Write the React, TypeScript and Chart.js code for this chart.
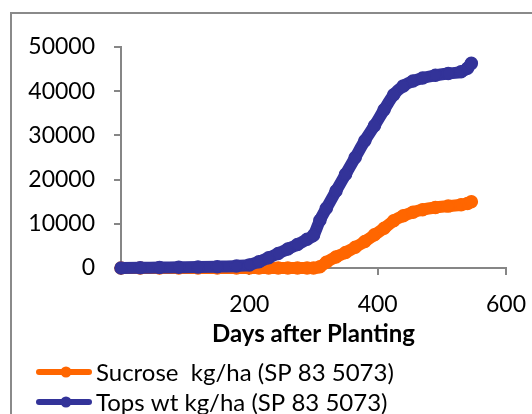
import React, { useEffect, useRef } from "react";
import { Chart, registerables } from "chart.js";

Chart.register(...registerables);

const days = [0, 30, 60, 90, 120, 150, 180, 200, 215, 230, 245, 260, 275, 290, 300, 310, 320, 335, 350, 365, 380, 395, 410, 425, 440, 455, 470, 490, 510, 530, 540, 546];
const sucrose = [0, 0, 0, 0, 0, 0, 0, 0, 0, 0, 0, 0, 0, 0, 0, 300, 1300, 2500, 3500, 4700, 6000, 7500, 9000, 10700, 11800, 12600, 13200, 13700, 14000, 14300, 14600, 15000];
const tops = [0, 50, 100, 150, 200, 300, 450, 700, 1400, 2300, 3300, 4300, 5300, 6500, 7400, 10800, 13500, 17400, 21200, 25000, 28800, 32200, 35800, 39200, 41200, 42300, 43000, 43600, 44000, 44400, 45200, 46300];
const seriesNames = ["Sucrose  kg/ha (SP 83 5073)", "Tops wt kg/ha (SP 83 5073)"];
const seriesColors = ["#FF6600", "#333399"];
const xTicks = [0, 200, 400, 600];
const yTicks = [0, 10000, 20000, 30000, 40000, 50000];
const xTitle = "Days after Planting";

const FONT = "Lato, 'Noto Sans', sans-serif";
const AXIS = "#868686";

const framePlugin = {
  id: "frame",
  beforeDraw(chart: any) {
    const ctx = chart.ctx;
    ctx.save();
    ctx.fillStyle = "#ffffff";
    ctx.fillRect(0, 0, chart.width, chart.height);
    ctx.strokeStyle = "#8a8a8a";
    ctx.lineWidth = 2;
    ctx.strokeRect(11, 13, 1000, 1000);
    ctx.restore();
  },
};

const legendPlugin = {
  id: "customLegend",
  afterDraw(chart: any) {
    const ctx = chart.ctx;
    ctx.save();
    chart.data.datasets.forEach((ds: any, i: number) => {
      const y = 372 + i * 30;
      ctx.strokeStyle = ds.borderColor;
      ctx.lineWidth = 6;
      ctx.lineCap = "round";
      ctx.beginPath();
      ctx.moveTo(39, y);
      ctx.lineTo(89, y);
      ctx.stroke();
      ctx.fillStyle = ds.borderColor;
      ctx.beginPath();
      ctx.arc(66, y, 5.5, 0, Math.PI * 2);
      ctx.fill();
      ctx.fillStyle = "#000";
      ctx.font = `24px ${FONT}`;
      ctx.textAlign = "left";
      ctx.textBaseline = "middle";
      ctx.fillText(ds.label, 96, y + 1);
    });
    ctx.restore();
  },
};

export default function App() {
  const ref = useRef<HTMLCanvasElement | null>(null);
  useEffect(() => {
    if (!ref.current) return;
    const mk = (vals: number[]) => days.map((d, i) => ({ x: d, y: vals[i] }));
    const common = {
      borderWidth: 12,
      borderCapStyle: "round",
      borderJoinStyle: "round",
      pointRadius: 6,
      pointBorderWidth: 1.5,
      cubicInterpolationMode: "monotone",
      clip: false,
    };
    const chart = new Chart(ref.current, {
      type: "line",
      data: {
        datasets: [
          {
            ...common,
            label: seriesNames[0],
            data: mk(sucrose),
            borderColor: seriesColors[0],
            backgroundColor: seriesColors[0],
            pointBorderColor: seriesColors[0],
            order: 1,
          } as any,
          {
            ...common,
            label: seriesNames[1],
            data: mk(tops),
            borderColor: seriesColors[1],
            backgroundColor: seriesColors[1],
            pointBorderColor: seriesColors[1],
            order: 0,
          } as any,
        ],
      },
      options: {
        animation: false,
        responsive: false,
        events: [],
        layout: { padding: { left: 0, right: 26, top: 47, bottom: 60 } },
        plugins: { legend: { display: false }, tooltip: { enabled: false } },
        scales: {
          x: {
            type: "linear",
            min: 0,
            max: 600,
            afterBuildTicks: (s: any) => {
              s.ticks = xTicks.map((v) => ({ value: v }));
            },
            afterFit: (s: any) => {
              s.height = 86;
              s.paddingLeft = 0;
              s.paddingRight = 0;
            },
            ticks: {
              color: "#000",
              font: { family: FONT, size: 23 },
              padding: 16,
              maxRotation: 0,
              callback: (v: any) => (v === 0 ? "" : String(v)),
            },
            grid: { display: true, drawOnChartArea: false, drawTicks: true, tickLength: 7, color: AXIS, lineWidth: 2 },
            border: { display: true, color: AXIS, width: 2 },
            title: {
              display: true,
              text: xTitle,
              color: "#000",
              font: { family: FONT, size: 24, weight: "bold" },
              padding: { top: 0, bottom: 5 },
            },
          },
          y: {
            type: "linear",
            min: 0,
            max: 50000,
            afterBuildTicks: (s: any) => {
              s.ticks = yTicks.map((v) => ({ value: v }));
            },
            afterFit: (s: any) => {
              s.width = 121;
            },
            ticks: {
              color: "#000",
              font: { family: FONT, size: 23 },
              padding: 19,
              callback: (v: any) => String(v),
            },
            grid: { display: true, drawOnChartArea: false, drawTicks: true, tickLength: 7, color: AXIS, lineWidth: 2 },
            border: { display: true, color: AXIS, width: 2 },
          },
        },
      },
      plugins: [framePlugin, legendPlugin],
    });
    return () => chart.destroy();
  }, []);
  return (
    <div style={{ position: "absolute", left: 0, top: 0, width: 532, height: 414 }}>
      <canvas ref={ref} width={532} height={414} style={{ display: "block" }} />
    </div>
  );
}
